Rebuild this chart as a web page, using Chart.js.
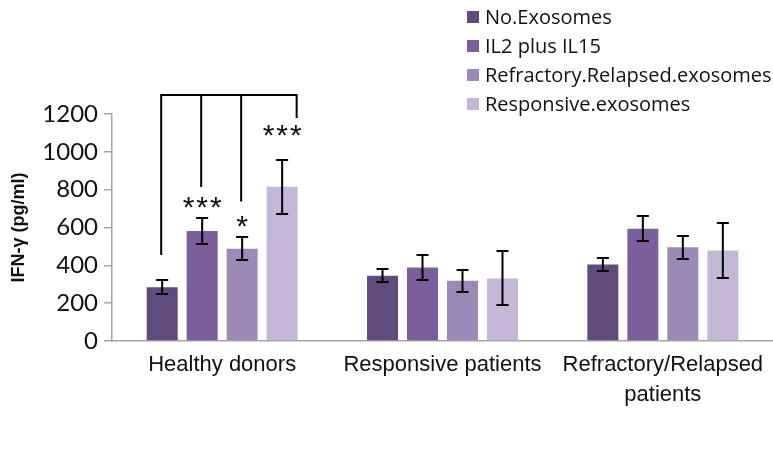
<!DOCTYPE html>
<html>
<head>
<meta charset="utf-8">
<script src="https://cdn.jsdelivr.net/npm/chart.js@4.4.0/dist/chart.umd.min.js"></script>
<style>
  html, body { margin: 0; padding: 0; background: #fff; }
  #wrap { position: relative; width: 773px; height: 450px; }
  #legend { position: absolute; left: 467px; top: 2px; font: 20px 'Open Sans', sans-serif; color: #111; }
  .item { display: flex; align-items: center; height: 29px; white-space: nowrap; }
  .sw { width: 12px; height: 12px; margin-right: 6px; flex: none; }
</style>
</head>
<body>
<div id="wrap">
  <canvas id="chart" width="773" height="450"></canvas>
  <div id="legend"></div>
</div>
<script>
// Data
const categories = ['Healthy donors', 'Responsive patients', ['Refractory/Relapsed', 'patients']];
const seriesNames = ['No.Exosomes', 'IL2 plus IL15', 'Refractory.Relapsed.exosomes', 'Responsive.exosomes'];
const noExosomes = [284, 345, 405];
const noExosomesErr = [36, 35, 36];
const il2il15 = [581, 388, 594];
const il2il15Err = [69, 67, 68];
const refractoryExo = [488, 319, 495];
const refractoryExoErr = [60, 58, 61];
const responsiveExo = [816, 331, 479];
const responsiveExoErr = [143, 143, 145];
const yTicks = [0, 200, 400, 600, 800, 1000, 1200];

// significance bracket over the healthy donors group
const bracketTop = 1300;
const bracketEnds = [455, 814, 737, 1179];
const starLabels = ['', '***', '*', '***'];
const starValues = [null, 730, 631, 1115];

const colors = ['#614b7c', '#7b5e9b', '#9d89b6', '#c4b8d6'];
const axisGray = '#a6a6a6';

// Error bars plugin
const errorBars = {
    id: 'errorBars',
    afterDatasetsDraw(chart) {
        const ctx = chart.ctx;
        const y = chart.scales.y;
        ctx.save();
        ctx.strokeStyle = '#000';
        ctx.lineWidth = 2;
        chart.data.datasets.forEach((ds, i) => {
            chart.getDatasetMeta(i).data.forEach((bar, j) => {
                const v = ds.data[j], e = ds.errors[j];
                const top = Math.round(y.getPixelForValue(v + e));
                const bot = Math.round(y.getPixelForValue(v - e));
                ctx.beginPath();
                ctx.moveTo(bar.x, top); ctx.lineTo(bar.x, bot);
                ctx.moveTo(bar.x - 6, top); ctx.lineTo(bar.x + 6, top);
                ctx.moveTo(bar.x - 6, bot); ctx.lineTo(bar.x + 6, bot);
                ctx.stroke();
            });
        });
        ctx.restore();
    }
};

// Bracket + stars plugin
const significance = {
    id: 'significance',
    afterDatasetsDraw(chart) {
        const ctx = chart.ctx;
        const y = chart.scales.y;
        const xs = chart.data.datasets.map((ds, i) => {
            const bar = chart.getDatasetMeta(i).data[0];
            return i === 3 ? bar.x + bar.width / 2 - 1 : bar.x - 1;
        });
        const yTop = y.getPixelForValue(bracketTop);
        ctx.save();
        ctx.strokeStyle = '#000';
        ctx.lineWidth = 2;
        ctx.beginPath();
        ctx.moveTo(xs[0], y.getPixelForValue(bracketEnds[0]));
        ctx.lineTo(xs[0], yTop);
        ctx.lineTo(xs[3], yTop);
        ctx.lineTo(xs[3], y.getPixelForValue(bracketEnds[3]));
        for (let i = 1; i < 3; i++) {
            ctx.moveTo(xs[i], yTop);
            ctx.lineTo(xs[i], y.getPixelForValue(bracketEnds[i]));
        }
        ctx.stroke();

        ctx.fillStyle = '#111';
        ctx.font = '30px "Liberation Sans"';
        ctx.letterSpacing = '2px';
        ctx.textAlign = 'center';
        ctx.textBaseline = 'alphabetic';
        starLabels.forEach((s, i) => {
            if (!s) return;
            const bar = chart.getDatasetMeta(i).data[0];
            const m = ctx.measureText(s);
            const cy = y.getPixelForValue(starValues[i]);
            ctx.fillText(s, bar.x + 1, cy + (m.actualBoundingBoxAscent - m.actualBoundingBoxDescent) / 2);
        });
        ctx.restore();
    }
};

const values = [noExosomes, il2il15, refractoryExo, responsiveExo];
const errors = [noExosomesErr, il2il15Err, refractoryExoErr, responsiveExoErr];

const ctx = document.getElementById('chart').getContext('2d');
const chart = new Chart(ctx, {
    type: 'bar',
    data: {
        labels: categories,
        datasets: seriesNames.map((name, i) => ({
            label: name,
            data: values[i],
            errors: errors[i],
            backgroundColor: colors[i],
            borderWidth: 0,
            barPercentage: 0.775,
            categoryPercentage: 0.726
        }))
    },
    options: {
        responsive: false,
        animation: false,
        layout: { padding: { top: 114, right: 0, bottom: 0, left: 0 } },
        plugins: {
            legend: { display: false },
            tooltip: { enabled: false }
        },
        scales: {
            x: {
                grid: { drawOnChartArea: false, drawTicks: false },
                border: { display: true, color: axisGray, width: 1.5 },
                ticks: {
                    color: '#111',
                    padding: 9,
                    font: { family: '"Liberation Sans", Arial', size: 22, lineHeight: 30 / 22 }
                },
                afterFit(scale) { scale.height = 109; }
            },
            y: {
                min: 0,
                max: 1200,
                afterBuildTicks(scale) { scale.ticks = yTicks.map(v => ({ value: v })); },
                grid: { drawOnChartArea: false, drawTicks: true, tickLength: 8, color: axisGray, lineWidth: 1.5 },
                border: { display: true, color: axisGray, width: 1.5 },
                ticks: {
                    color: '#111',
                    padding: 6,
                    font: { family: 'Lato', size: 24 },
                    callback: v => String(v)
                },
                title: {
                    display: true,
                    text: 'IFN-γ (pg/ml)',
                    color: '#111',
                    padding: { top: 8, bottom: 0 },
                    font: { family: '"Liberation Sans", Arial', size: 18, weight: 'bold' }
                },
                afterFit(scale) { scale.width = 112; }
            }
        }
    },
    plugins: [errorBars, significance]
});

// HTML legend, stacked like the original
const legend = document.getElementById('legend');
chart.data.datasets.forEach(ds => {
    const row = document.createElement('div');
    row.className = 'item';
    const sw = document.createElement('span');
    sw.className = 'sw';
    sw.style.background = ds.backgroundColor;
    const label = document.createElement('span');
    label.textContent = ds.label;
    row.appendChild(sw);
    row.appendChild(label);
    legend.appendChild(row);
});
</script>
</body>
</html>
